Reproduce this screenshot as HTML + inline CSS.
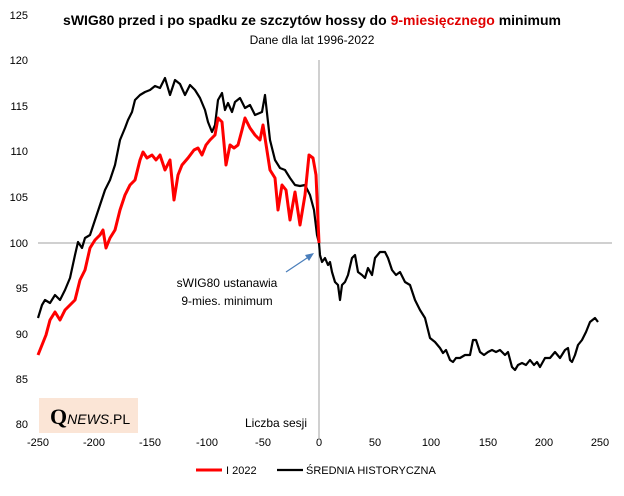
<!DOCTYPE html>
<html><head><meta charset="utf-8"><style>
body{margin:0;background:#fff;}
svg text{font-family:"Liberation Sans",sans-serif;}
</style></head><body>
<svg width="624" height="491" viewBox="0 0 624 491" xmlns="http://www.w3.org/2000/svg">
<rect width="624" height="491" fill="#fff"/>
<text x="312" y="25" text-anchor="middle" font-size="14" font-weight="bold" fill="#000">sWIG80 przed i po spadku ze szczytów hossy do <tspan fill="#e00000">9-miesięcznego</tspan> minimum</text>
<text x="312" y="44" text-anchor="middle" font-size="12" fill="#000">Dane dla lat 1996-2022</text>
<g font-size="11" fill="#000" text-anchor="end">
<text x="28" y="19">125</text><text x="28" y="64">120</text><text x="28" y="110">115</text><text x="28" y="155">110</text><text x="28" y="201">105</text><text x="28" y="247">100</text><text x="28" y="292">95</text><text x="28" y="338">90</text><text x="28" y="383">85</text><text x="28" y="428">80</text>
</g>
<g font-size="11" fill="#000" text-anchor="middle">
<text x="38" y="446">-250</text><text x="94" y="446">-200</text><text x="150" y="446">-150</text><text x="207" y="446">-100</text><text x="263" y="446">-50</text><text x="319" y="446">0</text><text x="375" y="446">50</text><text x="431" y="446">100</text><text x="488" y="446">150</text><text x="544" y="446">200</text><text x="600" y="446">250</text>
</g>
<line x1="38" y1="243" x2="612" y2="243" stroke="#a0a0a0" stroke-width="1"/>
<line x1="319" y1="60" x2="319" y2="440" stroke="#a0a0a0" stroke-width="1"/>
<rect x="39" y="398" width="99" height="35" fill="#fbe5d6"/>
<text x="50" y="424" font-family="Liberation Serif,serif" font-size="22" font-weight="bold" fill="#000" style="font-family:'Liberation Serif',serif">Q<tspan font-size="14" font-weight="normal" font-style="italic" font-family="Liberation Sans,sans-serif">NEWS</tspan><tspan font-size="14" font-weight="normal" font-family="Liberation Sans,sans-serif">.PL</tspan></text>
<text x="276" y="427" text-anchor="middle" font-size="12">Liczba sesji</text>
<text x="227" y="287" text-anchor="middle" font-size="12">sWIG80 ustanawia</text>
<text x="227" y="305" text-anchor="middle" font-size="12">9-mies. minimum</text>
<line x1="286" y1="272" x2="310" y2="256" stroke="#4a7ebb" stroke-width="1.2"/>
<polygon points="314,253 305,255 309,261" fill="#4a7ebb"/>
<polyline fill="none" stroke="#000" stroke-width="2.2" stroke-linejoin="round" points="38,318 42,305 45,300 50,303 55,295 60,300 65,290 70,278 75,255 78,242 82,248 85,238 90,235 95,220 100,205 105,190 110,180 115,165 120,140 125,128 128,120 132,112 135,100 140,95 145,92 150,90 155,86 160,88 165,78 170,95 175,80 180,84 185,95 190,85 195,90 200,98 205,110 208,122 212,132 215,125 218,100 222,93 225,110 228,103 232,112 235,102 240,98 245,108 250,105 255,115 262,112 265,95 270,140 275,160 280,168 285,170 290,178 295,185 300,186 305,185 310,195 314,210 317,235 319,243 320,255 322,262 325,258 328,265 330,262 332,272 335,282 338,285 340,300 342,285 345,282 348,275 352,258 355,255 358,272 362,275 365,278 368,268 372,275 375,258 380,252 385,252 388,258 392,270 396,275 400,272 405,282 410,285 415,300 420,310 425,318 430,338 435,342 440,348 443,353 446,350 450,360 453,362 456,358 460,358 465,355 470,355 473,340 476,340 480,352 484,355 488,352 492,350 496,352 500,350 505,355 508,352 512,367 515,370 518,365 522,363 526,365 530,360 534,365 537,362 540,367 545,358 550,358 555,352 560,358 565,350 568,348 570,360 572,362 575,355 578,345 582,340 586,332 590,322 595,318 598,322"/>
<polyline fill="none" stroke="#ff0000" stroke-width="3" stroke-linejoin="round" points="38,355 42,345 46,335 50,320 55,312 60,320 65,310 70,305 75,300 80,280 85,270 90,248 95,240 100,235 103,230 106,248 110,238 115,230 120,210 125,195 130,185 135,180 140,160 143,152 147,158 152,155 156,160 160,155 165,170 170,160 174,200 178,175 182,165 188,158 194,150 198,148 202,155 206,145 210,140 215,135 218,118 222,122 226,165 230,145 234,148 238,145 242,130 245,118 250,128 255,135 260,140 263,125 270,170 275,178 278,210 282,185 286,190 290,220 295,192 300,225 305,195 309,155 313,158 316,175 319,243"/>
<line x1="196" y1="470" x2="222" y2="470" stroke="#ff0000" stroke-width="3"/>
<text x="226" y="474" font-size="11">I 2022</text>
<line x1="277" y1="470" x2="303" y2="470" stroke="#000" stroke-width="2.2"/>
<text x="306" y="474" font-size="11">ŚREDNIA HISTORYCZNA</text>
</svg>
</body></html>
